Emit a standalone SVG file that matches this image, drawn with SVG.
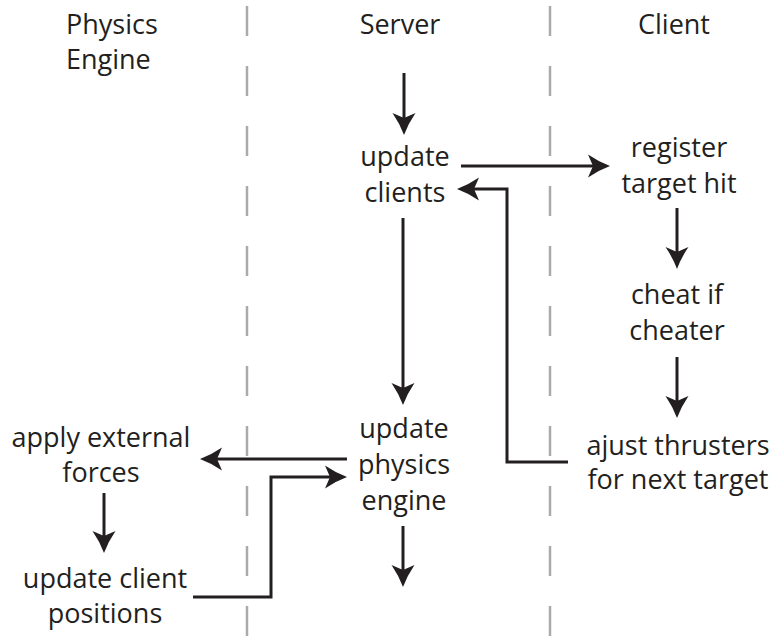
<svg xmlns="http://www.w3.org/2000/svg" width="769" height="639" viewBox="0 0 769 639">
<style>
text{font-family:"Open Sans","Liberation Sans",sans-serif;font-size:27px;fill:#231f20;text-anchor:middle}
.lane{stroke:#aaaaaa;stroke-width:2.5;stroke-dasharray:30 30;fill:none}
.c{stroke:#231f20;stroke-width:3;fill:none;marker-end:url(#ah)}
</style>
<defs>
<marker id="ah" viewBox="0 0 22 24" refX="14" refY="12" markerWidth="22" markerHeight="24" markerUnits="userSpaceOnUse" orient="auto">
<path d="M22,12 Q11,8 0,0.5 L5,12 L0,23.5 Q11,16 22,12 Z" fill="#231f20"/>
</marker>
</defs>
<g id="lanes">
<line class="lane" x1="247" y1="6" x2="247" y2="639"/>
<line class="lane" x1="550" y1="6" x2="550" y2="639"/>
</g>
<g id="headers">
<text x="66" y="34" style="text-anchor:start">Physics</text>
<text x="66" y="69" style="text-anchor:start">Engine</text>
<text x="400" y="34">Server</text>
<text x="674" y="34">Client</text>
</g>
<g id="connectors">
<path class="c" d="M404,73 V127"/>
<path class="c" d="M461,166 H602"/>
<path class="c" d="M568,462 H507 V189 H465"/>
<path class="c" d="M403,218 V397"/>
<path class="c" d="M677,208 V261"/>
<path class="c" d="M677,357 V410"/>
<path class="c" d="M347,459 H208"/>
<path class="c" d="M104,493 V545"/>
<path class="c" d="M193,597 H271 V477 H339"/>
<path class="c" d="M403,526 V579"/>
</g>
<g id="update-clients"><text x="405" y="166">update</text><text x="405" y="202">clients</text></g>
<g id="register-target-hit"><text x="679" y="157">register</text><text x="679" y="193">target hit</text></g>
<g id="cheat-if-cheater"><text x="677" y="304">cheat if</text><text x="677" y="340">cheater</text></g>
<g id="ajust-thrusters"><text x="678" y="455">ajust thrusters</text><text x="678" y="489">for next target</text></g>
<g id="update-physics-engine"><text x="404" y="438">update</text><text x="404" y="474">physics</text><text x="404" y="510">engine</text></g>
<g id="apply-external-forces"><text x="101" y="447">apply external</text><text x="101" y="482">forces</text></g>
<g id="update-client-positions"><text x="105" y="588">update client</text><text x="105" y="623">positions</text></g>
</svg>
